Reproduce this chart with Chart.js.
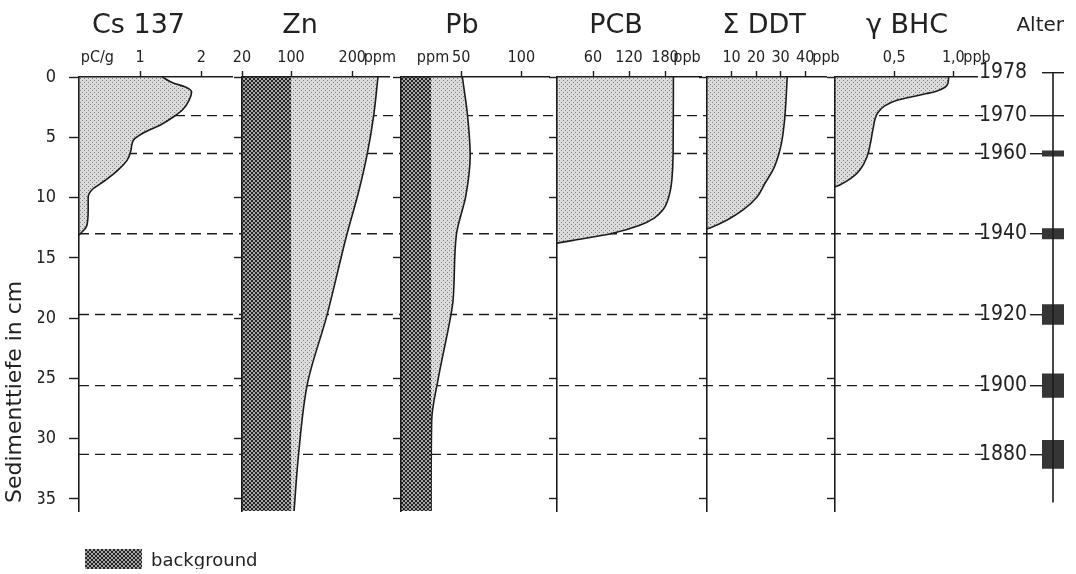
<!DOCTYPE html>
<html>
<head>
<meta charset="utf-8">
<script src="https://cdn.jsdelivr.net/npm/chart.js@4.4.1/dist/chart.umd.min.js"></script>
<style>
  html, body { margin: 0; padding: 0; background: #fff; width: 1076px; height: 574px; overflow: hidden; position: relative; }
  canvas { position: absolute; }
</style>
</head>
<body>
<script>
// ---------------- data ----------------
const depthTicks = [0, 5, 10, 15, 20, 25, 30, 35];

// Cs 137 (pC/g)
const csDepth = [0, 0.5, 0.83, 1.24, 1.91, 2.74, 3.32, 3.98, 4.64, 5.22, 6.05, 6.88, 7.71, 8.54, 9.37, 9.95, 11.0, 12.3, 12.7, 13.0, 13.1];
const csValue = [1.36, 1.54, 1.74, 1.84, 1.80, 1.69, 1.54, 1.33, 1.05, 0.89, 0.85, 0.79, 0.64, 0.44, 0.21, 0.15, 0.15, 0.13, 0.08, 0.02, 0];
const csTicks = [0.3, 1, 2];
const csTickLabels = ['pC/g', '1', '2'];

// Zn (ppm)
const znDepth = [0, 3.2, 6.5, 9.6, 13.1, 19.9, 25.4, 31.5, 36];
const znValue = [242, 235, 224, 210, 191, 158, 127, 112, 105];
const znBackground = 100;
const znTicks = [20, 100, 200, 245];
const znTickLabels = ['20', '100', '200', 'ppm'];

// Pb (ppm)
const pbDepth = [0, 3.2, 6.5, 9.8, 13.1, 18.5, 20, 25, 28.5, 36];
const pbValue = [51, 55.3, 57.5, 54, 46, 43.3, 41, 31, 25.5, 25];
const pbBackground = 25;
const pbTicks = [26.6, 50, 100];
const pbTickLabels = ['ppm', '50', '100'];

// PCB (ppb)
const pcbDepth = [0, 6.4, 8.5, 9.4, 10.3, 11.0, 11.7, 12.3, 12.96, 13.46, 13.74, 13.8];
const pcbValue = [194, 193.5, 191.5, 189, 184, 177, 162, 138, 93, 38, 4, 0];
const pcbTicks = [60, 120, 180, 216.7];
const pcbTickLabels = ['60', '120', '180', 'ppb'];

// Sigma DDT (ppb)
const ddtDepth = [0, 1.9, 3.15, 3.98, 5.22, 6.3, 7.71, 8.79, 9.95, 11.03, 11.86, 12.52, 12.6];
const ddtValue = [32.7, 32.2, 31.8, 31.4, 30.6, 29.4, 26.9, 23.7, 20.4, 14.7, 8.2, 1.2, 0];
const ddtTicks = [10, 20, 30, 40, 48.5];
const ddtTickLabels = ['10', '20', '30', '40', 'ppb'];

// gamma BHC (ppb)
const bhcDepth = [0, 0.5, 0.85, 1.2, 1.49, 1.91, 2.4, 2.99, 4.39, 5.47, 6.63, 7.71, 8.37, 8.96, 9.12];
const bhcValue = [0.96, 0.955, 0.93, 0.85, 0.72, 0.53, 0.42, 0.36, 0.32, 0.30, 0.27, 0.21, 0.14, 0.04, 0];
const bhcTicks = [0.5, 1.0, 1.2];
const bhcTickLabels = ['0,5', '1,0', 'ppb'];

// dating horizons (Alter) and their uncertainty band heights in cm
const ageYears = [1978, 1970, 1960, 1940, 1920, 1900, 1880];
const ageDepth = [-0.4, 3.2, 6.35, 13.0, 19.7, 25.6, 31.3];
const ageBand = [0, 0, 0.5, 0.9, 1.7, 2.0, 2.4];
const ageAxisEnd = 35.3;

// ---------------- look ----------------
const INK = '#1c1c1c';
const TEXT = '#222';
const NONE = 'rgba(0,0,0,0)';
const SANS = "'DejaVu Sans', 'Liberation Sans', sans-serif";
const NARROW = "'Liberation Sans Narrow', 'DejaVu Sans Condensed', 'Liberation Sans', sans-serif";
Chart.defaults.font.family = SANS;
Chart.defaults.color = TEXT;

const PAGE_H = 574;
const PLOT_TOP = 77;       // depth 0
const PLOT_BOTTOM = 511;   // depth 36
const DEPTH_MAX = 36;
const PAD_L = 12, PAD_R = 24;
const TITLE_SIZE = 27, TITLE_PAD_TOP = 9.5, TITLE_PAD_BOTTOM = 2;
const TITLE_H = TITLE_PAD_TOP + TITLE_SIZE * 1.2 + TITLE_PAD_BOTTOM;

function makePattern(size, base, dot, cells) {
  const c = document.createElement('canvas');
  c.width = c.height = size;
  const g = c.getContext('2d');
  g.fillStyle = base; g.fillRect(0, 0, size, size);
  g.fillStyle = dot;
  cells.forEach(([x, y]) => g.fillRect(x, y, 1, 1));
  return g.createPattern(c, 'repeat');
}
const lightDots = makePattern(4, '#dcdcdc', '#7e7e7e', [[0, 0], [2, 2]]);
const darkDots = makePattern(4, '#a2a2a2', '#262626',
  [[0, 0], [1, 0], [0, 1], [1, 1], [2, 2], [3, 2], [2, 3], [3, 3]]);

function addCanvas(left, top, w, h) {
  const c = document.createElement('canvas');
  c.width = w; c.height = h;
  c.style.left = left + 'px'; c.style.top = top + 'px';
  c.style.width = w + 'px'; c.style.height = h + 'px';
  document.body.appendChild(c);
  return c;
}
const isUnit = (label) => isNaN(parseFloat(label));
const blankAxis = { ticks: { display: false }, grid: { display: false }, border: { display: false } };

// ---------------- horizon lines and depth title ----------------
const BG_BOTTOM = 503;
const bgCanvas = addCanvas(0, 0, 1076, PAGE_H);
new Chart(bgCanvas, {
  type: 'line',
  data: {
    datasets: ageDepth.slice(1).map(d => ({
      data: [{ x: 0, y: d }, { x: 1, y: d }],
      borderColor: INK, borderWidth: 1.4, borderDash: [10, 6], pointRadius: 0
    }))
  },
  options: {
    responsive: false, animation: false, devicePixelRatio: 1,
    layout: { padding: { left: 0, right: 1076 - 983, top: PLOT_TOP, bottom: PAGE_H - BG_BOTTOM } },
    plugins: { legend: { display: false }, tooltip: { enabled: false } },
    scales: {
      x: { type: 'linear', display: false, min: 0, max: 1 },
      y: {
        type: 'linear', display: false, reverse: true, min: 0,
        max: DEPTH_MAX * (BG_BOTTOM - PLOT_TOP) / (PLOT_BOTTOM - PLOT_TOP)
      },
      depthTitle: {
        type: 'linear', axis: 'y', position: 'left', min: 0, max: 1,
        afterFit(s) { s.width = 79; },
        ...blankAxis,
        title: {
          display: true, text: 'Sedimenttiefe in cm', align: 'start',
          font: { family: SANS, size: 22 }, color: TEXT, padding: { top: 2.2, bottom: 0 }
        }
      }
    }
  }
});

// ---------------- profile panels ----------------
function panel(p) {
  const minWy = p.depthLabels ? 41 : 0;
  let wy = p.a + p.b - 2 * p.titleX;
  let extra = 0;
  if (wy < minWy) { wy = minWy; extra = 2 * p.titleX - (p.a - wy) - p.b; }
  const left = p.a - wy - PAD_L;
  const width = p.b + extra + PAD_R - left;
  const canvas = addCanvas(left, 0, width, PAGE_H);
  const datasets = [];
  if (p.background != null) {
    datasets.push({
      data: [{ x: p.background, y: 0 }, { x: p.background, y: DEPTH_MAX }],
      backgroundColor: darkDots, borderColor: NONE, borderWidth: 0, pointRadius: 0,
      fill: { value: p.min }
    });
  }
  datasets.push({
    data: p.depth.map((d, i) => ({ x: p.value[i], y: d })),
    borderColor: INK, borderWidth: 1.6, borderJoinStyle: 'round',
    backgroundColor: lightDots, pointRadius: 0,
    fill: { value: p.min }, cubicInterpolationMode: 'monotone'
  });
  new Chart(canvas, {
    type: 'line',
    data: { datasets },
    options: {
      indexAxis: 'y', responsive: false, animation: false, devicePixelRatio: 1,
      layout: { padding: { left: PAD_L, right: PAD_R, top: 0, bottom: PAGE_H - PLOT_BOTTOM } },
      plugins: {
        legend: { display: false }, tooltip: { enabled: false },
        title: {
          display: true, text: p.title, color: TEXT,
          font: { family: SANS, size: TITLE_SIZE, weight: 'normal' },
          padding: { top: TITLE_PAD_TOP, bottom: TITLE_PAD_BOTTOM }
        }
      },
      scales: {
        x: {
          type: 'linear', position: 'top', min: p.min, max: p.max,
          afterFit(s) { s.height = PLOT_TOP - TITLE_H; },
          afterBuildTicks(s) { s.ticks = p.ticks.map(v => ({ value: v })); },
          ticks: {
            autoSkip: false, maxRotation: 0, minRotation: 0, padding: 4,
            font: { family: NARROW, size: 16 }, color: TEXT,
            callback: (v, i) => p.tickLabels[i]
          },
          grid: {
            display: true, drawOnChartArea: false, drawTicks: true, tickLength: 6, tickWidth: 1.4, z: 1,
            tickColor: ctx => isUnit(p.tickLabels[ctx.index]) ? NONE : INK
          },
          border: { display: true, color: INK, width: 1.6, z: 1 }
        },
        y: {
          type: 'linear', position: 'left', reverse: true, min: 0, max: DEPTH_MAX,
          afterFit(s) { s.width = wy; },
          afterBuildTicks(s) { s.ticks = depthTicks.map(v => ({ value: v })); },
          ticks: {
            autoSkip: false, padding: 13, font: { family: NARROW, size: 18 }, color: TEXT,
            callback: v => p.depthLabels ? String(v) : ''
          },
          grid: {
            display: true, drawOnChartArea: false, drawTicks: true,
            tickLength: p.depthLabels ? 10 : 8, tickWidth: 1.4, tickColor: INK, z: 1
          },
          border: { display: true, color: INK, width: 1.6, z: 1 }
        },
        titleSpace: {
          type: 'linear', axis: 'y', position: 'right', display: extra > 0,
          afterFit(s) { s.width = extra; },
          ...blankAxis
        }
      }
    }
  });
}

panel({ title: 'Cs 137', depth: csDepth, value: csValue, ticks: csTicks, tickLabels: csTickLabels,
        min: 0, max: 2.5, a: 79, b: 232, titleX: 138.5, depthLabels: true });
panel({ title: 'Zn', depth: znDepth, value: znValue, ticks: znTicks, tickLabels: znTickLabels,
        background: znBackground, min: 20, max: 260, a: 242, b: 389, titleX: 300 });
panel({ title: 'Pb', depth: pbDepth, value: pbValue, ticks: pbTicks, tickLabels: pbTickLabels,
        background: pbBackground, min: 0, max: 123, a: 401, b: 549, titleX: 462 });
panel({ title: 'PCB', depth: pcbDepth, value: pcbValue, ticks: pcbTicks, tickLabels: pcbTickLabels,
        min: 0, max: 240, a: 557, b: 701, titleX: 616 });
panel({ title: 'Σ DDT', depth: ddtDepth, value: ddtValue, ticks: ddtTicks, tickLabels: ddtTickLabels,
        min: 0, max: 48.5, a: 707, b: 826, titleX: 764 });
panel({ title: 'γ BHC', depth: bhcDepth, value: bhcValue, ticks: bhcTicks, tickLabels: bhcTickLabels,
        min: 0, max: 1.2, a: 835, b: 977, titleX: 907 });

// ---------------- age scale (Alter) ----------------
const ageCanvas = addCanvas(960, 0, 116, PAGE_H);
const ageDatasets = [{
  data: [{ x: 0.5, y: ageDepth[0] }, { x: 0.5, y: ageAxisEnd }],
  borderColor: INK, borderWidth: 1.6, pointRadius: 0
}];
ageDepth.forEach((d, i) => {
  if (ageBand[i] > 0) {
    ageDatasets.push({
      data: [{ x: 0.5, y: d - ageBand[i] / 2 }, { x: 0.5, y: d + ageBand[i] / 2 }],
      borderColor: '#353535', borderWidth: 24, borderCapStyle: 'butt', pointRadius: 0
    });
  }
});
new Chart(ageCanvas, {
  type: 'line',
  data: { datasets: ageDatasets },
  options: {
    responsive: false, animation: false, devicePixelRatio: 1,
    layout: { padding: { left: 0, right: 12, top: 0, bottom: PAGE_H - PLOT_BOTTOM } },
    plugins: {
      legend: { display: false }, tooltip: { enabled: false },
      title: {
        display: true, text: 'Alter', align: 'end', color: TEXT,
        font: { family: SANS, size: 20, weight: 'normal' },
        padding: { top: 14.1, bottom: 65 - 14.1 - 24 }
      }
    },
    scales: {
      x: { type: 'linear', display: false, min: 0, max: 1 },
      y: {
        type: 'linear', position: 'left', reverse: true, min: -1, max: DEPTH_MAX,
        afterFit(s) { s.width = 82; },
        afterBuildTicks(s) { s.ticks = ageDepth.map(v => ({ value: v })); },
        ticks: {
          autoSkip: false, padding: 3, font: { family: NARROW, size: 21 }, color: TEXT,
          callback: (v, i) => String(ageYears[i])
        },
        grid: {
          display: true, drawOnChartArea: true, color: INK, lineWidth: 1.4,
          tickLength: 12, tickWidth: 1.4,
          tickColor: ctx => ctx.index === 0 ? NONE : INK
        },
        border: { display: false }
      }
    }
  }
});

// ---------------- legend ----------------
const legendCanvas = addCanvas(75, 539, 320, 60);
new Chart(legendCanvas, {
  type: 'bar',
  data: { labels: [], datasets: [{ label: 'background', data: [], backgroundColor: darkDots, borderWidth: 0 }] },
  options: {
    responsive: false, animation: false, devicePixelRatio: 1,
    scales: { x: { display: false }, y: { display: false } },
    plugins: {
      tooltip: { enabled: false },
      legend: {
        display: true, position: 'top', align: 'start',
        labels: { boxWidth: 57, boxHeight: 24, padding: 10, font: { family: SANS, size: 18 }, color: TEXT }
      }
    }
  }
});
</script>
</body>
</html>
